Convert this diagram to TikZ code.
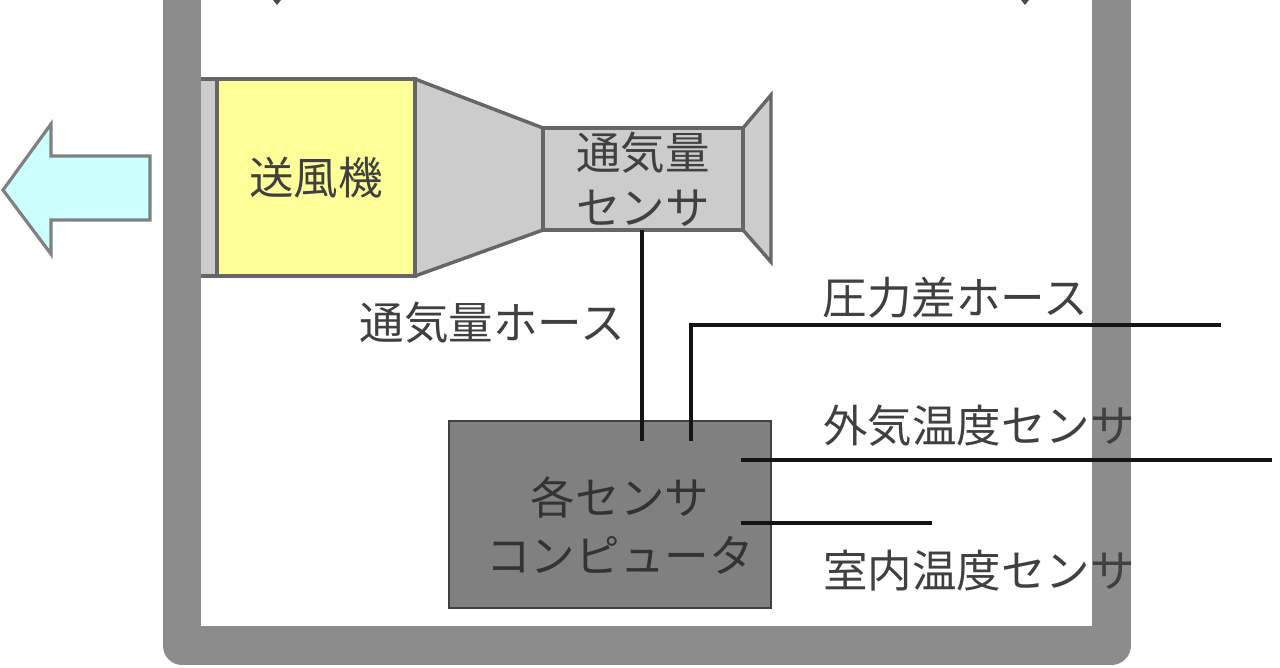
\documentclass[tikz,border=0pt]{standalone}
\usepackage{fontspec}
\setmainfont{Noto Sans CJK JP}
\definecolor{wallgray}{HTML}{8C8C8C}
\definecolor{ductgray}{HTML}{CCCCCC}
\definecolor{edgegray}{HTML}{666666}
\definecolor{boxgray}{HTML}{808080}
\definecolor{fanyellow}{HTML}{FFFF99}
\definecolor{flowcyan}{HTML}{CCFFFF}
\definecolor{labelgray}{HTML}{404040}
\tikzset{
    part/.style={rectangle,draw=edgegray,fill=ductgray,line width=2.6pt,inner sep=0pt,outer sep=0pt,align=center},
    partedge/.style={draw=edgegray,fill=ductgray,line width=2.6pt,line join=miter},
    hose/.style={line width=3.6pt,color=black!92},
    tag/.style={inner sep=0pt,text=labelgray,align=center,font=\fontsize{33.4}{41}\selectfont},
}
\begin{document}
\begin{tikzpicture}[x=0.75pt,y=-0.75pt]
        \useasboundingbox (0,0) rectangle (1280,667);
        \clip (0,0) rectangle (1280,667);

        % Wall
        \draw[wallgray,line width=29pt,line join=round] (182,-40) -- (182,645.5) -- (1111.5,645.5) -- (1111.5,-40);
        \fill[black!70] (273,0) -- (281,0) -- (277,5) -- cycle;
        \fill[black!70] (1021,0) -- (1029,0) -- (1025,5) -- cycle;

        % Outflow
        \draw[draw=boxgray,fill=flowcyan,line width=2.4pt,line join=miter] (3,190) -- (51,124) -- (51,156) -- (150,156) -- (150,220) -- (51,220) -- (51,254) -- cycle;

        % Duct
        \draw[partedge] (201,79) -- (217,79) -- (217,276) -- (201,276);
        \draw[partedge] (415,79) -- (543,128) -- (543,230) -- (415,276) -- cycle;
        \draw[partedge] (743,128) -- (771,95) -- (771,262) -- (743,230) -- cycle;

        \node[part,fill=fanyellow,minimum width=148.5pt,minimum height=147.75pt,text=labelgray,font=\fontsize{33.4}{41}\selectfont] (fan) at (316,177.5) {送風機};
        \node[part,minimum width=150pt,minimum height=76.5pt,text=labelgray,font=\fontsize{33.4}{41}\selectfont] (flowsensor) at (643,179) {通気量\\センサ};

        % Computer
        \node[part,fill=boxgray,draw=black!75,line width=2pt,minimum width=241.5pt,minimum height=140.25pt] (computer) at (610,514.5) {};
        \node[tag,text=black!80] (computerlabel) at (620,526) {各センサ\\[2.5pt]コンピュータ};

        % Hose ends
        \coordinate (flowend) at (642,441);
        \coordinate (pressbend) at (691,325);
        \coordinate (pressin) at (691,441);
        \coordinate (pressend) at (1221,325);
        \coordinate (outin) at (741,460);
        \coordinate (outend) at (1272,460);
        \coordinate (roomin) at (741,523);
        \coordinate (roomend) at (932,523);

        \draw[hose] (flowsensor.south -| flowend) -- (flowend);
        \draw[hose,line join=miter] (pressin) -- (pressbend) -- (pressend);
        \draw[hose] (outin) -- (outend);
        \draw[hose] (roomin) -- (roomend);

        % Labels
        \node[tag] (flowhose) at (492,323) {通気量ホース};
        \node[tag] (presshose) at (955,298) {圧力差ホース};
        \node[tag] (outtemp) at (979,426) {外気温度センサ};
        \node[tag] (roomtemp) at (979,571) {室内温度センサ};

    \end{tikzpicture}
\end{document}
